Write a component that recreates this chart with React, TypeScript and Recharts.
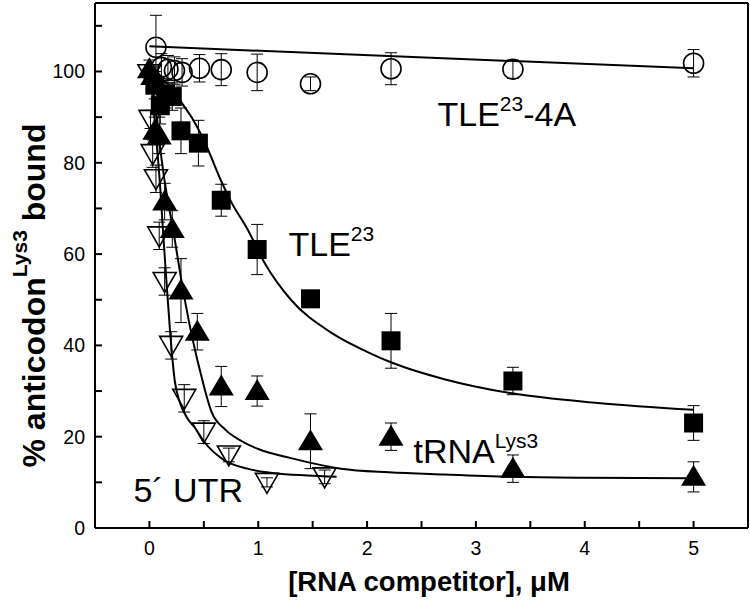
import React from "react";
import {
  ComposedChart,
  Line,
  Scatter,
  ErrorBar,
  XAxis,
  YAxis,
  ReferenceDot,
} from "recharts";

// measured points (x in µM, y in % bound, e = error bar half-height)
const tle4aX = [0.06, 0.11, 0.17, 0.23, 0.3, 0.46, 0.66, 0.99, 1.48, 2.22, 3.34, 5.0];
const tle4aY = [105.3, 100.9, 100.5, 100.2, 99.8, 100.7, 100.4, 99.8, 97.3, 100.6, 100.5, 101.8];
const tle4aE = [7, 3, 3, 3, 3, 3, 3.5, 4, 1.5, 3.5, 2, 3];

const tleX = [0.05, 0.1, 0.15, 0.21, 0.29, 0.45, 0.66, 0.99, 1.48, 2.22, 3.34, 5.0];
const tleY = [97, 92.5, 95, 94.5, 87, 84.3, 71.8, 61, 50.2, 41, 32.2, 23];
const tleE = [3, 4, 3, 3, 5, 5, 3.5, 5.5, 1.5, 6, 3, 3.8];

const trnaX = [0.0, 0.03, 0.05, 0.09, 0.14, 0.21, 0.29, 0.44, 0.66, 0.99, 1.48, 2.22, 3.34, 5.0];
const trnaY = [100.5, 99, 87, 86, 71.5, 65.5, 52, 43, 31, 30, 19, 20, 13, 11.2];
const trnaE = [2, 2, 3, 4, 4, 4, 7, 4, 4.4, 3.3, 6, 3, 3, 3.3];

const utrX = [0.0, 0.01, 0.03, 0.06, 0.09, 0.14, 0.2, 0.32, 0.5, 0.73, 1.08, 1.61];
const utrY = [99.5, 89.5, 82, 76.5, 64, 54, 40, 28.4, 21, 16, 10, 11.2];
const utrE = [2, 2, 3, 3, 3, 3, 3, 3, 2.5, 1.5, 1, 1.5];

// fitted curves
const fit4aX = [0, 5];
const fit4aY = [105.5, 100.7];

const fitTleX = [0, 0.1, 0.2, 0.3, 0.4, 0.5, 0.65, 0.75, 0.9, 1.06, 1.3, 1.67, 2.0, 2.23, 2.71, 3.33, 4.12, 5.0];
const fitTleY = [100, 98.5, 96.5, 93, 89.5, 85, 76.5, 71.5, 65.5, 58, 50, 42.8, 38.6, 36.2, 32.6, 29.5, 27.4, 25.9];

const fitTrnaX = [0, 0.05, 0.1, 0.14, 0.22, 0.31, 0.4, 0.48, 0.57, 0.7, 0.85, 1.0, 1.3, 1.76, 2.2, 2.71, 3.34, 4.0, 5.0];
const fitTrnaY = [100, 93, 83, 76, 65, 52, 41, 33, 25.5, 21.5, 19, 17.3, 15.3, 13, 12.2, 11.7, 11.2, 11.0, 10.9];

const fitUtrX = [0, 0.03, 0.06, 0.095, 0.125, 0.156, 0.19, 0.233, 0.28, 0.35, 0.42, 0.5, 0.69, 0.9, 1.15, 1.45, 1.72];
const fitUtrY = [100, 94, 86, 76, 65, 54.2, 43, 32.2, 27.5, 24, 21.9, 19, 14.8, 13, 12, 11.5, 11.2];

const xTicks = [0, 0.5, 1, 1.5, 2, 2.5, 3, 3.5, 4, 4.5, 5];
const yTicks = [0, 10, 20, 30, 40, 50, 60, 70, 80, 90, 100, 110];

const FONT = "'Liberation Sans', Arial, sans-serif";

const pts = (xs: number[], ys: number[], es: number[]) =>
  xs.map((x, i) => ({ x, y: ys[i], e: es[i] }));
const curve = (xs: number[], ys: number[]) => xs.map((x, i) => ({ x, y: ys[i] }));

const Circle = (p: any) => (
  <circle cx={p.cx} cy={p.cy} r={10} fill="none" stroke="#000" strokeWidth={1.6} />
);
const Square = (p: any) => (
  <rect x={p.cx - 9.5} y={p.cy - 9.5} width={19} height={19} fill="#000" />
);
const UpTri = (p: any) => (
  <polygon
    points={`${p.cx},${p.cy - 12} ${p.cx - 12.5},${p.cy + 9} ${p.cx + 12.5},${p.cy + 9}`}
    fill="#000"
  />
);
const DownTri = (p: any) => (
  <polygon
    points={`${p.cx - 11.5},${p.cy - 9} ${p.cx + 11.5},${p.cy - 9} ${p.cx},${p.cy + 11}`}
    fill="none"
    stroke="#000"
    strokeWidth={1.6}
  />
);

const note = (main: string, sup: string, tail: string) => (props: any) => {
  const { x, y } = props.viewBox;
  return (
    <text x={x} y={y} fontFamily={FONT} fontSize={34} fill="#000">
      {main}
      {sup && (
        <tspan fontSize={21} dy={-15}>
          {sup}
        </tspan>
      )}
      {tail && <tspan dy={15}>{tail}</tspan>}
    </text>
  );
};

const YLab = (props: any) => {
  const vb = props.viewBox;
  const cy = vb.y + vb.height / 2 + 30;
  return (
    <text
      transform={`translate(45,${cy}) rotate(-90)`}
      textAnchor="middle"
      fontFamily={FONT}
      fontWeight="bold"
      fontSize={32}
      fill="#000"
    >
      % anticodon
      <tspan fontSize={21} dy={-18}>
        Lys3
      </tspan>
      <tspan dy={18}> bound</tspan>
    </text>
  );
};

const XLab = () => (
  <text
    x={429}
    y={591}
    textAnchor="middle"
    fontFamily={FONT}
    fontWeight="bold"
    fontSize={27.5}
    fill="#000"
  >
    [RNA competitor], μM
  </text>
);

const axisLine = { stroke: "#000", strokeWidth: 2 };
const tickLine = { stroke: "#000", strokeWidth: 2 };
const tickStyle = { fill: "#000", fontSize: 19.5, fontFamily: FONT };

export default function App() {
  return (
    <div style={{ position: "absolute", left: 0, top: 0, background: "#fff" }}>
      <ComposedChart
        width={750}
        height={607}
        margin={{ top: 2, right: 1, bottom: 0, left: 0 }}
      >
        <XAxis
          type="number"
          dataKey="x"
          domain={[-0.5, 5.5]}
          ticks={xTicks}
          interval={0}
          tickFormatter={(v: number) => (Number.isInteger(v) ? String(v) : "")}
          height={79}
          tickSize={-7}
          tickMargin={20}
          axisLine={axisLine}
          tickLine={tickLine}
          tick={tickStyle}
          label={XLab}
          allowDataOverflow
        />
        <XAxis
          xAxisId="top"
          orientation="top"
          type="number"
          dataKey="x"
          domain={[-0.5, 5.5]}
          ticks={xTicks}
          interval={0}
          height={1}
          tickSize={-7}
          axisLine={axisLine}
          tickLine={tickLine}
          tick={false}
          allowDataOverflow
        />
        <YAxis
          type="number"
          domain={[0, 115]}
          ticks={yTicks}
          interval={0}
          tickFormatter={(v: number) => (v % 20 === 0 ? String(v) : "")}
          width={95}
          tickSize={-7}
          tickMargin={17}
          axisLine={axisLine}
          tickLine={tickLine}
          tick={tickStyle}
          label={YLab}
          allowDataOverflow
        />
        <YAxis
          yAxisId="right"
          orientation="right"
          type="number"
          domain={[0, 115]}
          ticks={yTicks}
          interval={0}
          width={1}
          tickSize={-7}
          axisLine={axisLine}
          tickLine={tickLine}
          tick={false}
          allowDataOverflow
        />

        <Line data={curve(fit4aX, fit4aY)} xAxisId="top" yAxisId="right" dataKey="y" type="linear" stroke="#000" strokeWidth={2} dot={false} activeDot={false} isAnimationActive={false} />
        <Line data={curve(fitTleX, fitTleY)} dataKey="y" type="monotone" stroke="#000" strokeWidth={2} dot={false} activeDot={false} isAnimationActive={false} />
        <Line data={curve(fitTrnaX, fitTrnaY)} dataKey="y" type="monotone" stroke="#000" strokeWidth={2} dot={false} activeDot={false} isAnimationActive={false} />
        <Line data={curve(fitUtrX, fitUtrY)} dataKey="y" type="monotone" stroke="#000" strokeWidth={2} dot={false} activeDot={false} isAnimationActive={false} />

        <Scatter data={pts(tle4aX, tle4aY, tle4aE)} dataKey="y" shape={Circle} isAnimationActive={false}>
          <ErrorBar dataKey="e" direction="y" width={6} stroke="#000" strokeWidth={1} />
        </Scatter>
        <Scatter data={pts(tleX, tleY, tleE)} dataKey="y" shape={Square} isAnimationActive={false}>
          <ErrorBar dataKey="e" direction="y" width={6} stroke="#000" strokeWidth={1} />
        </Scatter>
        <Scatter data={pts(trnaX, trnaY, trnaE)} dataKey="y" shape={UpTri} isAnimationActive={false}>
          <ErrorBar dataKey="e" direction="y" width={6} stroke="#000" strokeWidth={1} />
        </Scatter>
        <Scatter data={pts(utrX, utrY, utrE)} dataKey="y" shape={DownTri} isAnimationActive={false}>
          <ErrorBar dataKey="e" direction="y" width={6} stroke="#000" strokeWidth={1} />
        </Scatter>

        <ReferenceDot x={2.647} y={88.1} r={0} stroke="none" fill="none" label={note("TLE", "23", "-4A")} />
        <ReferenceDot x={1.278} y={59.5} r={0} stroke="none" fill="none" label={note("TLE", "23", "")} />
        <ReferenceDot x={2.426} y={14.3} r={0} stroke="none" fill="none" label={note("tRNA", "Lys3", "")} />
        <ReferenceDot x={-0.147} y={5.7} r={0} stroke="none" fill="none" label={note("5´ UTR", "", "")} />
      </ComposedChart>
    </div>
  );
}
